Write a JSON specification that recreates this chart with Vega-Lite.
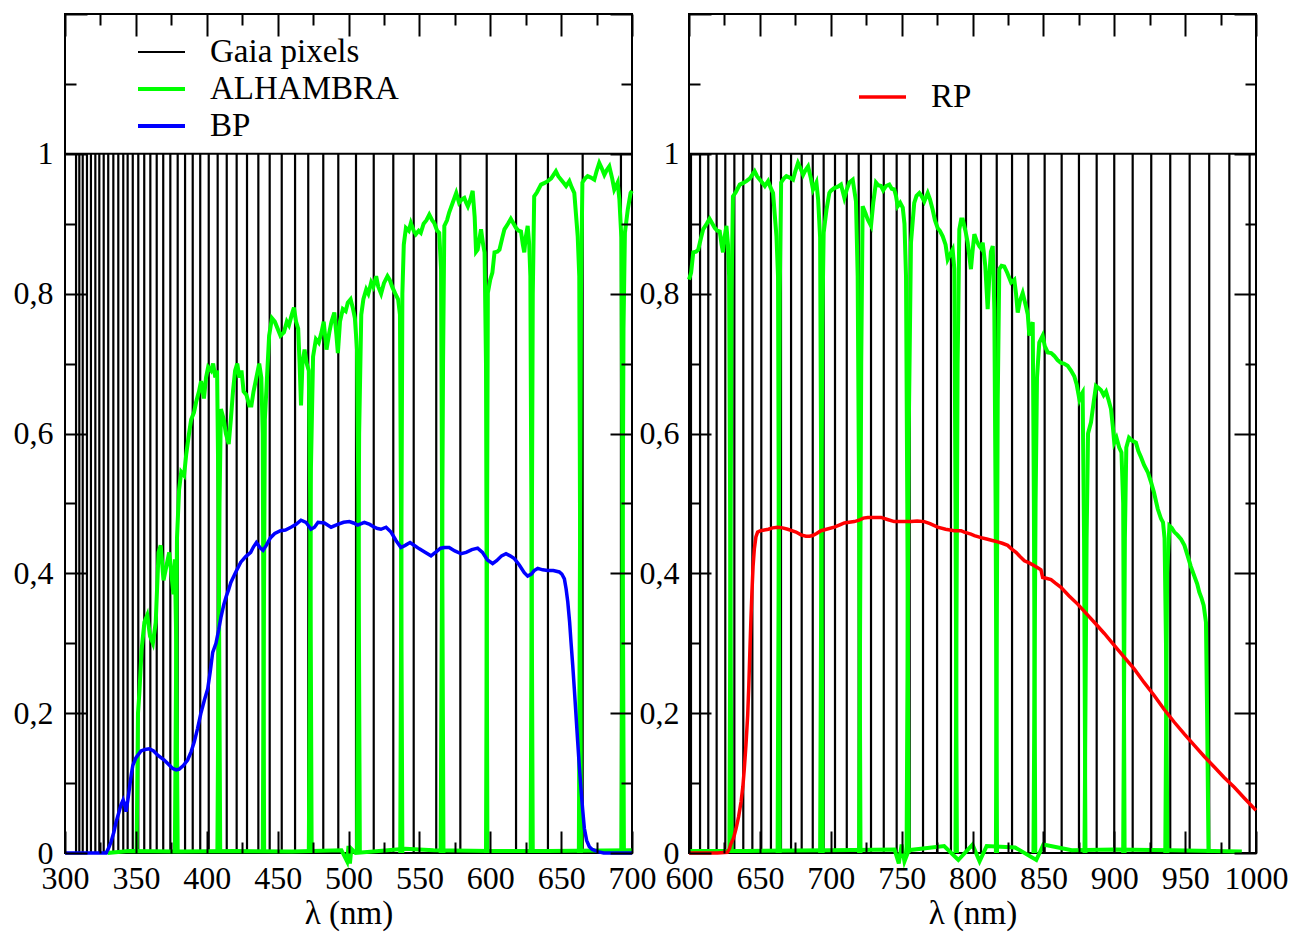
{
  "$schema": "https://vega.github.io/schema/vega-lite/v6.json",
  "padding": {"left": 12, "top": 12, "right": 5, "bottom": 5},
  "bounds": "flush",
  "spacing": 57,
  "background": "white",
  "config": {
    "font": "Liberation Serif",
    "view": {"stroke": "black", "strokeWidth": 2},
    "axis": {"grid": false, "domain": false, "labelColor": "black", "titleColor": "black", "tickColor": "black", "labelFont": "Liberation Serif", "titleFont": "Liberation Serif", "titleFontWeight": "normal"}
  },
  "resolve": {"scale": {"color": "independent"}, "legend": {"color": "independent"}},
  "datasets": {
    "gaia_bp": [
      {"nm": 307.8}, {"nm": 310.1}, {"nm": 312.5}, {"nm": 315.5}, {"nm": 318.3}, {"nm": 321.4}, {"nm": 324.2}, {"nm": 327.3}, {"nm": 330.5}, {"nm": 334.1},
      {"nm": 337.6}, {"nm": 341.1}, {"nm": 344.2}, {"nm": 347.8}, {"nm": 351.7}, {"nm": 355.9}, {"nm": 360.2}, {"nm": 364.7}, {"nm": 369.3}, {"nm": 374.3},
      {"nm": 379.5}, {"nm": 384.7}, {"nm": 390.1}, {"nm": 395.4}, {"nm": 401.4}, {"nm": 407.7}, {"nm": 414.1}, {"nm": 421.1}, {"nm": 428.4}, {"nm": 436.4},
      {"nm": 444.4}, {"nm": 452.9}, {"nm": 462.3}, {"nm": 471.6}, {"nm": 482.2}, {"nm": 492.8}, {"nm": 505.3}, {"nm": 517.8}, {"nm": 531.6}, {"nm": 546.0},
      {"nm": 561.9}, {"nm": 578.9}, {"nm": 597.5}, {"nm": 618.2}, {"nm": 640.7}, {"nm": 665.2}, {"nm": 692.2}
    ],
    "gaia_rp": [
      {"nm": 601.4}, {"nm": 607.8}, {"nm": 613.6}, {"nm": 619.5}, {"nm": 625.6}, {"nm": 632.0}, {"nm": 638.3}, {"nm": 644.7}, {"nm": 651.0}, {"nm": 657.8},
      {"nm": 664.9}, {"nm": 672.0}, {"nm": 679.5}, {"nm": 687.3}, {"nm": 695.0}, {"nm": 703.0}, {"nm": 711.3}, {"nm": 719.7}, {"nm": 728.4}, {"nm": 737.4},
      {"nm": 746.5}, {"nm": 755.7}, {"nm": 765.1}, {"nm": 775.0}, {"nm": 784.8}, {"nm": 795.4}, {"nm": 806.0}, {"nm": 817.1}, {"nm": 827.9}, {"nm": 839.4},
      {"nm": 850.9}, {"nm": 862.9}, {"nm": 875.1}, {"nm": 887.6}, {"nm": 900.0}, {"nm": 913.0}, {"nm": 926.1}, {"nm": 939.5}, {"nm": 953.2}, {"nm": 967.0},
      {"nm": 981.2}, {"nm": 995.5}
    ],
    "alhambra": [
      {"f": 0, "nm": 330, "t": 0}, {"f": 0, "nm": 345, "t": 0.003}, {"f": 0, "nm": 380, "t": 0.002}, {"f": 0, "nm": 420, "t": 0.003}, {"f": 0, "nm": 460, "t": 0.002},
      {"f": 0, "nm": 495, "t": 0.004}, {"f": 0, "nm": 499, "t": -0.012}, {"f": 0, "nm": 500, "t": 0.01}, {"f": 0, "nm": 501, "t": -0.015}, {"f": 0, "nm": 502, "t": 0.006},
      {"f": 0, "nm": 505, "t": 0}, {"f": 0, "nm": 540, "t": 0.006}, {"f": 0, "nm": 560, "t": 0.004}, {"f": 0, "nm": 600, "t": 0.003}, {"f": 0, "nm": 640, "t": 0.003},
      {"f": 0, "nm": 700, "t": 0.004}, {"f": 0, "nm": 745, "t": 0.005}, {"f": 0, "nm": 748, "t": -0.015}, {"f": 0, "nm": 750, "t": 0.012}, {"f": 0, "nm": 752, "t": -0.012},
      {"f": 0, "nm": 755, "t": 0.004}, {"f": 0, "nm": 780, "t": 0.01}, {"f": 0, "nm": 790, "t": -0.01}, {"f": 0, "nm": 800, "t": 0.012}, {"f": 0, "nm": 805, "t": -0.012},
      {"f": 0, "nm": 810, "t": 0.01}, {"f": 0, "nm": 830, "t": 0.008}, {"f": 0, "nm": 845, "t": -0.01}, {"f": 0, "nm": 850, "t": 0.012}, {"f": 0, "nm": 870, "t": 0.004},
      {"f": 0, "nm": 900, "t": 0.005}, {"f": 0, "nm": 940, "t": 0.004}, {"f": 0, "nm": 990, "t": 0.002},

      {"f": 1, "nm": 350.5, "t": 0}, {"f": 1, "nm": 351.5, "t": 0.2}, {"f": 1, "nm": 352.5, "t": 0.23}, {"f": 1, "nm": 354, "t": 0.29}, {"f": 1, "nm": 356, "t": 0.33},
      {"f": 1, "nm": 358, "t": 0.34}, {"f": 1, "nm": 360, "t": 0.31}, {"f": 1, "nm": 362, "t": 0.3}, {"f": 1, "nm": 364, "t": 0.33}, {"f": 1, "nm": 366, "t": 0.43},
      {"f": 1, "nm": 367.5, "t": 0.44}, {"f": 1, "nm": 369.5, "t": 0.39}, {"f": 1, "nm": 371.5, "t": 0.41}, {"f": 1, "nm": 373.5, "t": 0.43}, {"f": 1, "nm": 375, "t": 0.4},
      {"f": 1, "nm": 376.5, "t": 0.37}, {"f": 1, "nm": 377.5, "t": 0.42}, {"f": 1, "nm": 378.5, "t": 0.3}, {"f": 1, "nm": 379.5, "t": 0},

      {"f": 2, "nm": 377.5, "t": 0}, {"f": 2, "nm": 379, "t": 0.45}, {"f": 2, "nm": 380.5, "t": 0.52}, {"f": 2, "nm": 382, "t": 0.545}, {"f": 2, "nm": 384, "t": 0.54},
      {"f": 2, "nm": 385.5, "t": 0.57}, {"f": 2, "nm": 387.5, "t": 0.6}, {"f": 2, "nm": 389, "t": 0.62}, {"f": 2, "nm": 391, "t": 0.63}, {"f": 2, "nm": 392.5, "t": 0.645},
      {"f": 2, "nm": 394.5, "t": 0.66}, {"f": 2, "nm": 396, "t": 0.675}, {"f": 2, "nm": 398, "t": 0.65}, {"f": 2, "nm": 399.5, "t": 0.68}, {"f": 2, "nm": 401, "t": 0.695},
      {"f": 2, "nm": 403, "t": 0.69}, {"f": 2, "nm": 404.5, "t": 0.7}, {"f": 2, "nm": 406, "t": 0.68}, {"f": 2, "nm": 407.3, "t": 0.69}, {"f": 2, "nm": 408.3, "t": 0.5},
      {"f": 2, "nm": 409.5, "t": 0},

      {"f": 3, "nm": 407.5, "t": 0}, {"f": 3, "nm": 409, "t": 0.5}, {"f": 3, "nm": 410, "t": 0.635}, {"f": 3, "nm": 412, "t": 0.62}, {"f": 3, "nm": 413.5, "t": 0.6},
      {"f": 3, "nm": 415.5, "t": 0.585}, {"f": 3, "nm": 417, "t": 0.62}, {"f": 3, "nm": 418.5, "t": 0.66}, {"f": 3, "nm": 420, "t": 0.69}, {"f": 3, "nm": 421.5, "t": 0.7},
      {"f": 3, "nm": 423, "t": 0.68}, {"f": 3, "nm": 424.5, "t": 0.69}, {"f": 3, "nm": 426, "t": 0.66}, {"f": 3, "nm": 428, "t": 0.655}, {"f": 3, "nm": 430, "t": 0.64},
      {"f": 3, "nm": 431.5, "t": 0.64}, {"f": 3, "nm": 433, "t": 0.66}, {"f": 3, "nm": 434.5, "t": 0.675}, {"f": 3, "nm": 436, "t": 0.69}, {"f": 3, "nm": 437, "t": 0.7},
      {"f": 3, "nm": 438.5, "t": 0.68}, {"f": 3, "nm": 439.5, "t": 0.6}, {"f": 3, "nm": 440.5, "t": 0},

      {"f": 4, "nm": 439.5, "t": 0}, {"f": 4, "nm": 441, "t": 0.62}, {"f": 4, "nm": 442, "t": 0.66}, {"f": 4, "nm": 444, "t": 0.74}, {"f": 4, "nm": 446, "t": 0.765},
      {"f": 4, "nm": 448, "t": 0.76}, {"f": 4, "nm": 450, "t": 0.75}, {"f": 4, "nm": 452, "t": 0.74}, {"f": 4, "nm": 454.5, "t": 0.745}, {"f": 4, "nm": 456.5, "t": 0.76},
      {"f": 4, "nm": 458, "t": 0.755}, {"f": 4, "nm": 460, "t": 0.77}, {"f": 4, "nm": 461.5, "t": 0.78}, {"f": 4, "nm": 463, "t": 0.76}, {"f": 4, "nm": 464.5, "t": 0.75},
      {"f": 4, "nm": 465.5, "t": 0.7}, {"f": 4, "nm": 466.5, "t": 0.64}, {"f": 4, "nm": 467.5, "t": 0.7}, {"f": 4, "nm": 469, "t": 0.72}, {"f": 4, "nm": 470.5, "t": 0.7},
      {"f": 4, "nm": 472, "t": 0.69}, {"f": 4, "nm": 473, "t": 0.5}, {"f": 4, "nm": 474, "t": 0},

      {"f": 5, "nm": 472, "t": 0}, {"f": 5, "nm": 473.5, "t": 0.55}, {"f": 5, "nm": 475, "t": 0.71}, {"f": 5, "nm": 477, "t": 0.735}, {"f": 5, "nm": 479, "t": 0.73},
      {"f": 5, "nm": 481, "t": 0.745}, {"f": 5, "nm": 482.5, "t": 0.76}, {"f": 5, "nm": 484.5, "t": 0.72}, {"f": 5, "nm": 486.5, "t": 0.745}, {"f": 5, "nm": 488, "t": 0.76},
      {"f": 5, "nm": 490, "t": 0.773}, {"f": 5, "nm": 491.5, "t": 0.74}, {"f": 5, "nm": 492.5, "t": 0.715}, {"f": 5, "nm": 494, "t": 0.76}, {"f": 5, "nm": 496, "t": 0.778},
      {"f": 5, "nm": 498, "t": 0.775}, {"f": 5, "nm": 499.5, "t": 0.787}, {"f": 5, "nm": 501.5, "t": 0.792}, {"f": 5, "nm": 503, "t": 0.78}, {"f": 5, "nm": 504.5, "t": 0.765},
      {"f": 5, "nm": 506, "t": 0.72}, {"f": 5, "nm": 507, "t": 0.5}, {"f": 5, "nm": 508, "t": 0},

      {"f": 6, "nm": 506, "t": 0}, {"f": 6, "nm": 507.5, "t": 0.6}, {"f": 6, "nm": 509, "t": 0.77}, {"f": 6, "nm": 510.5, "t": 0.792}, {"f": 6, "nm": 512.5, "t": 0.806},
      {"f": 6, "nm": 514, "t": 0.8}, {"f": 6, "nm": 516, "t": 0.816}, {"f": 6, "nm": 517.5, "t": 0.81}, {"f": 6, "nm": 519.5, "t": 0.825}, {"f": 6, "nm": 521, "t": 0.81},
      {"f": 6, "nm": 523, "t": 0.8}, {"f": 6, "nm": 525, "t": 0.815}, {"f": 6, "nm": 527.5, "t": 0.825}, {"f": 6, "nm": 529, "t": 0.82}, {"f": 6, "nm": 531, "t": 0.809},
      {"f": 6, "nm": 533, "t": 0.8}, {"f": 6, "nm": 535, "t": 0.792}, {"f": 6, "nm": 536.3, "t": 0.77}, {"f": 6, "nm": 537, "t": 0.5}, {"f": 6, "nm": 538, "t": 0},

      {"f": 7, "nm": 536.5, "t": 0}, {"f": 7, "nm": 538, "t": 0.8}, {"f": 7, "nm": 539, "t": 0.87}, {"f": 7, "nm": 540.5, "t": 0.894}, {"f": 7, "nm": 542.5, "t": 0.89},
      {"f": 7, "nm": 544, "t": 0.901}, {"f": 7, "nm": 546, "t": 0.89}, {"f": 7, "nm": 547.5, "t": 0.885}, {"f": 7, "nm": 549.5, "t": 0.89}, {"f": 7, "nm": 551, "t": 0.887},
      {"f": 7, "nm": 553, "t": 0.9}, {"f": 7, "nm": 555, "t": 0.905}, {"f": 7, "nm": 557, "t": 0.913}, {"f": 7, "nm": 559, "t": 0.905}, {"f": 7, "nm": 560.5, "t": 0.901},
      {"f": 7, "nm": 562.5, "t": 0.89}, {"f": 7, "nm": 564, "t": 0.887}, {"f": 7, "nm": 565.3, "t": 0.835}, {"f": 7, "nm": 566, "t": 0.5}, {"f": 7, "nm": 567, "t": 0},

      {"f": 8, "nm": 565, "t": 0}, {"f": 8, "nm": 566.7, "t": 0.7}, {"f": 8, "nm": 567.6, "t": 0.897}, {"f": 8, "nm": 569.5, "t": 0.905}, {"f": 8, "nm": 571, "t": 0.916},
      {"f": 8, "nm": 573.5, "t": 0.93}, {"f": 8, "nm": 576, "t": 0.944}, {"f": 8, "nm": 578, "t": 0.93}, {"f": 8, "nm": 580, "t": 0.935}, {"f": 8, "nm": 581.7, "t": 0.937},
      {"f": 8, "nm": 583, "t": 0.93}, {"f": 8, "nm": 584.2, "t": 0.925}, {"f": 8, "nm": 586, "t": 0.935}, {"f": 8, "nm": 587.6, "t": 0.947}, {"f": 8, "nm": 589, "t": 0.91},
      {"f": 8, "nm": 590, "t": 0.86}, {"f": 8, "nm": 591.1, "t": 0.863}, {"f": 8, "nm": 592.5, "t": 0.88}, {"f": 8, "nm": 593.5, "t": 0.892}, {"f": 8, "nm": 595, "t": 0.87},
      {"f": 8, "nm": 596, "t": 0.859}, {"f": 8, "nm": 597, "t": 0.7}, {"f": 8, "nm": 598, "t": 0},

      {"f": 9, "nm": 597, "t": 0}, {"f": 9, "nm": 598.3, "t": 0.801}, {"f": 9, "nm": 600, "t": 0.82}, {"f": 9, "nm": 601.5, "t": 0.83}, {"f": 9, "nm": 603, "t": 0.859},
      {"f": 9, "nm": 605, "t": 0.86}, {"f": 9, "nm": 606.5, "t": 0.863}, {"f": 9, "nm": 608.5, "t": 0.88}, {"f": 9, "nm": 610, "t": 0.892}, {"f": 9, "nm": 612.5, "t": 0.9},
      {"f": 9, "nm": 614.5, "t": 0.907}, {"f": 9, "nm": 616.5, "t": 0.9}, {"f": 9, "nm": 618.2, "t": 0.894}, {"f": 9, "nm": 620, "t": 0.89}, {"f": 9, "nm": 621.7, "t": 0.889},
      {"f": 9, "nm": 623, "t": 0.87}, {"f": 9, "nm": 624, "t": 0.859}, {"f": 9, "nm": 625, "t": 0.88}, {"f": 9, "nm": 626.4, "t": 0.897}, {"f": 9, "nm": 627.5, "t": 0.87},
      {"f": 9, "nm": 628.3, "t": 0.825}, {"f": 9, "nm": 629, "t": 0.5}, {"f": 9, "nm": 630, "t": 0},

      {"f": 10, "nm": 628.5, "t": 0}, {"f": 10, "nm": 630, "t": 0.8}, {"f": 10, "nm": 631, "t": 0.939}, {"f": 10, "nm": 633, "t": 0.945}, {"f": 10, "nm": 635.8, "t": 0.956},
      {"f": 10, "nm": 638, "t": 0.958}, {"f": 10, "nm": 640.5, "t": 0.961}, {"f": 10, "nm": 643, "t": 0.965}, {"f": 10, "nm": 646.3, "t": 0.975}, {"f": 10, "nm": 648, "t": 0.968},
      {"f": 10, "nm": 650, "t": 0.963}, {"f": 10, "nm": 652, "t": 0.958}, {"f": 10, "nm": 653.5, "t": 0.954}, {"f": 10, "nm": 655.8, "t": 0.961}, {"f": 10, "nm": 657.5, "t": 0.952},
      {"f": 10, "nm": 659.3, "t": 0.944}, {"f": 10, "nm": 661, "t": 0.9}, {"f": 10, "nm": 661.7, "t": 0.882}, {"f": 10, "nm": 662.8, "t": 0.825}, {"f": 10, "nm": 663.3, "t": 0.5},
      {"f": 10, "nm": 664, "t": 0},

      {"f": 11, "nm": 662.5, "t": 0}, {"f": 11, "nm": 664, "t": 0.8}, {"f": 11, "nm": 665, "t": 0.959}, {"f": 11, "nm": 667, "t": 0.965}, {"f": 11, "nm": 668.7, "t": 0.968},
      {"f": 11, "nm": 671, "t": 0.966}, {"f": 11, "nm": 673.4, "t": 0.963}, {"f": 11, "nm": 675, "t": 0.975}, {"f": 11, "nm": 676.9, "t": 0.987}, {"f": 11, "nm": 678.5, "t": 0.98},
      {"f": 11, "nm": 680.5, "t": 0.97}, {"f": 11, "nm": 682, "t": 0.976}, {"f": 11, "nm": 684, "t": 0.982}, {"f": 11, "nm": 686, "t": 0.965}, {"f": 11, "nm": 687.5, "t": 0.949},
      {"f": 11, "nm": 689, "t": 0.955}, {"f": 11, "nm": 689.9, "t": 0.959}, {"f": 11, "nm": 691.1, "t": 0.935}, {"f": 11, "nm": 692.5, "t": 0.88}, {"f": 11, "nm": 693.3, "t": 0.5},
      {"f": 11, "nm": 694.3, "t": 0},

      {"f": 12, "nm": 692.5, "t": 0}, {"f": 12, "nm": 694, "t": 0.75}, {"f": 12, "nm": 695, "t": 0.887}, {"f": 12, "nm": 697, "t": 0.92}, {"f": 12, "nm": 699, "t": 0.944},
      {"f": 12, "nm": 700, "t": 0.947}, {"f": 12, "nm": 702.5, "t": 0.951}, {"f": 12, "nm": 705, "t": 0.953}, {"f": 12, "nm": 707.2, "t": 0.956}, {"f": 12, "nm": 709.6, "t": 0.937},
      {"f": 12, "nm": 711.5, "t": 0.95}, {"f": 12, "nm": 713.1, "t": 0.959}, {"f": 12, "nm": 715.5, "t": 0.963}, {"f": 12, "nm": 717.8, "t": 0.932}, {"f": 12, "nm": 719, "t": 0.825},
      {"f": 12, "nm": 720, "t": 0.5}, {"f": 12, "nm": 721, "t": 0},

      {"f": 13, "nm": 720, "t": 0}, {"f": 13, "nm": 721.5, "t": 0.7}, {"f": 13, "nm": 722.5, "t": 0.925}, {"f": 13, "nm": 724.5, "t": 0.915}, {"f": 13, "nm": 726.1, "t": 0.906},
      {"f": 13, "nm": 728.4, "t": 0.897}, {"f": 13, "nm": 730, "t": 0.93}, {"f": 13, "nm": 731.9, "t": 0.959}, {"f": 13, "nm": 733.5, "t": 0.955}, {"f": 13, "nm": 735.5, "t": 0.954},
      {"f": 13, "nm": 737, "t": 0.948}, {"f": 13, "nm": 739, "t": 0.954}, {"f": 13, "nm": 741.3, "t": 0.956}, {"f": 13, "nm": 743, "t": 0.95}, {"f": 13, "nm": 744.8, "t": 0.949},
      {"f": 13, "nm": 746, "t": 0.94}, {"f": 13, "nm": 747.2, "t": 0.925}, {"f": 13, "nm": 749, "t": 0.93}, {"f": 13, "nm": 750.8, "t": 0.923}, {"f": 13, "nm": 752, "t": 0.9},
      {"f": 13, "nm": 753.1, "t": 0.825}, {"f": 13, "nm": 754, "t": 0.5}, {"f": 13, "nm": 755, "t": 0},

      {"f": 14, "nm": 753.5, "t": 0}, {"f": 14, "nm": 755, "t": 0.6}, {"f": 14, "nm": 756.6, "t": 0.873}, {"f": 14, "nm": 758.9, "t": 0.93}, {"f": 14, "nm": 760.5, "t": 0.94},
      {"f": 14, "nm": 762.5, "t": 0.944}, {"f": 14, "nm": 764, "t": 0.94}, {"f": 14, "nm": 766, "t": 0.932}, {"f": 14, "nm": 768.4, "t": 0.944}, {"f": 14, "nm": 770, "t": 0.935},
      {"f": 14, "nm": 771.9, "t": 0.92}, {"f": 14, "nm": 773.5, "t": 0.905}, {"f": 14, "nm": 775.4, "t": 0.894}, {"f": 14, "nm": 777, "t": 0.89}, {"f": 14, "nm": 779, "t": 0.882},
      {"f": 14, "nm": 781, "t": 0.87}, {"f": 14, "nm": 782.5, "t": 0.849}, {"f": 14, "nm": 784, "t": 0.855}, {"f": 14, "nm": 786, "t": 0.863}, {"f": 14, "nm": 787.2, "t": 0.835},
      {"f": 14, "nm": 788, "t": 0.5}, {"f": 14, "nm": 789, "t": 0},

      {"f": 15, "nm": 788, "t": 0}, {"f": 15, "nm": 789.5, "t": 0.7}, {"f": 15, "nm": 790.7, "t": 0.892}, {"f": 15, "nm": 792, "t": 0.906}, {"f": 15, "nm": 793.1, "t": 0.906},
      {"f": 15, "nm": 795, "t": 0.89}, {"f": 15, "nm": 796.6, "t": 0.873}, {"f": 15, "nm": 798, "t": 0.85}, {"f": 15, "nm": 798.9, "t": 0.835}, {"f": 15, "nm": 800, "t": 0.86},
      {"f": 15, "nm": 801.3, "t": 0.885}, {"f": 15, "nm": 803, "t": 0.875}, {"f": 15, "nm": 804.8, "t": 0.868}, {"f": 15, "nm": 806, "t": 0.865}, {"f": 15, "nm": 807.2, "t": 0.873},
      {"f": 15, "nm": 809, "t": 0.84}, {"f": 15, "nm": 810.7, "t": 0.778}, {"f": 15, "nm": 812, "t": 0.83}, {"f": 15, "nm": 813, "t": 0.86}, {"f": 15, "nm": 814.3, "t": 0.868},
      {"f": 15, "nm": 815.4, "t": 0.778}, {"f": 15, "nm": 816.3, "t": 0.5}, {"f": 15, "nm": 817.3, "t": 0},

      {"f": 16, "nm": 816.5, "t": 0}, {"f": 16, "nm": 817.8, "t": 0.649}, {"f": 16, "nm": 818.9, "t": 0.835}, {"f": 16, "nm": 820.5, "t": 0.84}, {"f": 16, "nm": 822.4, "t": 0.839},
      {"f": 16, "nm": 824.5, "t": 0.83}, {"f": 16, "nm": 827.2, "t": 0.816}, {"f": 16, "nm": 829.5, "t": 0.82}, {"f": 16, "nm": 830.7, "t": 0.8}, {"f": 16, "nm": 831.9, "t": 0.773},
      {"f": 16, "nm": 833.5, "t": 0.79}, {"f": 16, "nm": 835.4, "t": 0.801}, {"f": 16, "nm": 837.7, "t": 0.782}, {"f": 16, "nm": 839, "t": 0.77}, {"f": 16, "nm": 840.1, "t": 0.74},
      {"f": 16, "nm": 841.5, "t": 0.755}, {"f": 16, "nm": 842.5, "t": 0.759}, {"f": 16, "nm": 843.3, "t": 0.5}, {"f": 16, "nm": 844.3, "t": 0},

      {"f": 17, "nm": 843, "t": 0}, {"f": 17, "nm": 844.5, "t": 0.5}, {"f": 17, "nm": 845.5, "t": 0.68}, {"f": 17, "nm": 847.1, "t": 0.73}, {"f": 17, "nm": 849.5, "t": 0.74},
      {"f": 17, "nm": 851, "t": 0.725}, {"f": 17, "nm": 853.1, "t": 0.716}, {"f": 17, "nm": 855.5, "t": 0.715}, {"f": 17, "nm": 857.7, "t": 0.711}, {"f": 17, "nm": 860, "t": 0.705},
      {"f": 17, "nm": 862.4, "t": 0.701}, {"f": 17, "nm": 864.5, "t": 0.7}, {"f": 17, "nm": 867.1, "t": 0.697}, {"f": 17, "nm": 869.5, "t": 0.69}, {"f": 17, "nm": 871.8, "t": 0.682},
      {"f": 17, "nm": 873.5, "t": 0.67}, {"f": 17, "nm": 875.4, "t": 0.649}, {"f": 17, "nm": 876.5, "t": 0.655}, {"f": 17, "nm": 877.7, "t": 0.659}, {"f": 17, "nm": 878.7, "t": 0.45},
      {"f": 17, "nm": 879.7, "t": 0},

      {"f": 18, "nm": 879, "t": 0}, {"f": 18, "nm": 880.5, "t": 0.45}, {"f": 18, "nm": 881.5, "t": 0.6}, {"f": 18, "nm": 883.6, "t": 0.616}, {"f": 18, "nm": 885.5, "t": 0.645},
      {"f": 18, "nm": 887.1, "t": 0.668}, {"f": 18, "nm": 889, "t": 0.665}, {"f": 18, "nm": 890.7, "t": 0.662}, {"f": 18, "nm": 892.5, "t": 0.655}, {"f": 18, "nm": 894.2, "t": 0.66},
      {"f": 18, "nm": 896, "t": 0.648}, {"f": 18, "nm": 897.7, "t": 0.635}, {"f": 18, "nm": 899, "t": 0.61}, {"f": 18, "nm": 900, "t": 0.587}, {"f": 18, "nm": 901.6, "t": 0.594},
      {"f": 18, "nm": 903.5, "t": 0.58}, {"f": 18, "nm": 905.1, "t": 0.573}, {"f": 18, "nm": 906.3, "t": 0.5}, {"f": 18, "nm": 907.3, "t": 0},

      {"f": 19, "nm": 906.3, "t": 0}, {"f": 19, "nm": 907.5, "t": 0.45}, {"f": 19, "nm": 908.5, "t": 0.58}, {"f": 19, "nm": 910.4, "t": 0.594}, {"f": 19, "nm": 912.5, "t": 0.59},
      {"f": 19, "nm": 915.3, "t": 0.587}, {"f": 19, "nm": 917, "t": 0.575}, {"f": 19, "nm": 918.9, "t": 0.566}, {"f": 19, "nm": 921, "t": 0.555}, {"f": 19, "nm": 923.8, "t": 0.544},
      {"f": 19, "nm": 926, "t": 0.53}, {"f": 19, "nm": 928, "t": 0.516}, {"f": 19, "nm": 930.7, "t": 0.492}, {"f": 19, "nm": 933, "t": 0.478}, {"f": 19, "nm": 934.4, "t": 0.473},
      {"f": 19, "nm": 935.5, "t": 0.45}, {"f": 19, "nm": 936.5, "t": 0.3}, {"f": 19, "nm": 937.5, "t": 0},

      {"f": 20, "nm": 936, "t": 0}, {"f": 20, "nm": 937.3, "t": 0.4}, {"f": 20, "nm": 938.9, "t": 0.468}, {"f": 20, "nm": 940.5, "t": 0.465}, {"f": 20, "nm": 942.4, "t": 0.459},
      {"f": 20, "nm": 944.5, "t": 0.455}, {"f": 20, "nm": 947.1, "t": 0.449}, {"f": 20, "nm": 949.5, "t": 0.44}, {"f": 20, "nm": 951.8, "t": 0.425}, {"f": 20, "nm": 954, "t": 0.41},
      {"f": 20, "nm": 956.5, "t": 0.396}, {"f": 20, "nm": 958.5, "t": 0.385}, {"f": 20, "nm": 960, "t": 0.373}, {"f": 20, "nm": 961.5, "t": 0.365}, {"f": 20, "nm": 963.1, "t": 0.354},
      {"f": 20, "nm": 964.7, "t": 0.33}, {"f": 20, "nm": 965.5, "t": 0.2}, {"f": 20, "nm": 966.5, "t": 0}
    ],
    "bp": [
      {"nm": 300, "t": 0}, {"nm": 320, "t": 0}, {"nm": 329, "t": 0}, {"nm": 331, "t": 0.008}, {"nm": 332.5, "t": 0.016}, {"nm": 334.5, "t": 0.03}, {"nm": 336, "t": 0.044},
      {"nm": 338, "t": 0.058}, {"nm": 339.5, "t": 0.069}, {"nm": 341, "t": 0.076}, {"nm": 342, "t": 0.07}, {"nm": 343, "t": 0.059}, {"nm": 344.3, "t": 0.075}, {"nm": 345.4, "t": 0.092},
      {"nm": 346.6, "t": 0.11}, {"nm": 347.8, "t": 0.125}, {"nm": 350, "t": 0.136}, {"nm": 353.6, "t": 0.146}, {"nm": 356.5, "t": 0.148}, {"nm": 359.5, "t": 0.149}, {"nm": 362.5, "t": 0.146},
      {"nm": 365.4, "t": 0.14}, {"nm": 370, "t": 0.133}, {"nm": 373, "t": 0.127}, {"nm": 376, "t": 0.121}, {"nm": 378.5, "t": 0.119}, {"nm": 380.6, "t": 0.12}, {"nm": 383.5, "t": 0.125},
      {"nm": 386.5, "t": 0.133}, {"nm": 389, "t": 0.145}, {"nm": 391.2, "t": 0.159}, {"nm": 393.5, "t": 0.178}, {"nm": 396, "t": 0.201}, {"nm": 398.5, "t": 0.22}, {"nm": 400.7, "t": 0.235},
      {"nm": 402.5, "t": 0.26}, {"nm": 404.2, "t": 0.287}, {"nm": 406.5, "t": 0.3}, {"nm": 408.5, "t": 0.32}, {"nm": 410, "t": 0.337}, {"nm": 412, "t": 0.355}, {"nm": 413.6, "t": 0.366},
      {"nm": 415.5, "t": 0.377}, {"nm": 417, "t": 0.387}, {"nm": 420.5, "t": 0.402}, {"nm": 424, "t": 0.416}, {"nm": 427.5, "t": 0.424}, {"nm": 431, "t": 0.43}, {"nm": 433, "t": 0.438},
      {"nm": 435, "t": 0.444}, {"nm": 437.5, "t": 0.437}, {"nm": 439.7, "t": 0.433}, {"nm": 442, "t": 0.44}, {"nm": 445, "t": 0.451}, {"nm": 448, "t": 0.457}, {"nm": 452, "t": 0.461},
      {"nm": 455.5, "t": 0.462}, {"nm": 459.4, "t": 0.466}, {"nm": 463, "t": 0.47}, {"nm": 466.5, "t": 0.476}, {"nm": 470, "t": 0.473}, {"nm": 473.5, "t": 0.463}, {"nm": 476, "t": 0.466},
      {"nm": 478.5, "t": 0.473}, {"nm": 483, "t": 0.472}, {"nm": 487.7, "t": 0.466}, {"nm": 492.4, "t": 0.47}, {"nm": 496.5, "t": 0.473}, {"nm": 500.6, "t": 0.474}, {"nm": 503.5, "t": 0.472},
      {"nm": 506.5, "t": 0.469}, {"nm": 509, "t": 0.471}, {"nm": 511.2, "t": 0.473}, {"nm": 515, "t": 0.47}, {"nm": 518.2, "t": 0.466}, {"nm": 520.5, "t": 0.464}, {"nm": 522.9, "t": 0.463},
      {"nm": 526.5, "t": 0.466}, {"nm": 530, "t": 0.459}, {"nm": 533.5, "t": 0.447}, {"nm": 537, "t": 0.437}, {"nm": 540, "t": 0.44}, {"nm": 543.4, "t": 0.444}, {"nm": 547, "t": 0.439},
      {"nm": 550, "t": 0.435}, {"nm": 554, "t": 0.43}, {"nm": 558.2, "t": 0.425}, {"nm": 562, "t": 0.431}, {"nm": 565, "t": 0.436}, {"nm": 567.6, "t": 0.437}, {"nm": 571, "t": 0.437},
      {"nm": 575, "t": 0.432}, {"nm": 579.4, "t": 0.428}, {"nm": 583, "t": 0.43}, {"nm": 587, "t": 0.434}, {"nm": 591.1, "t": 0.436}, {"nm": 594.5, "t": 0.43}, {"nm": 598, "t": 0.419},
      {"nm": 601.7, "t": 0.414}, {"nm": 604.5, "t": 0.418}, {"nm": 608, "t": 0.425}, {"nm": 611.1, "t": 0.428}, {"nm": 614, "t": 0.425}, {"nm": 617, "t": 0.421}, {"nm": 620.5, "t": 0.412},
      {"nm": 624, "t": 0.401}, {"nm": 626.4, "t": 0.396}, {"nm": 629, "t": 0.399}, {"nm": 631, "t": 0.404}, {"nm": 633.5, "t": 0.407}, {"nm": 637, "t": 0.405}, {"nm": 640.5, "t": 0.404},
      {"nm": 644.5, "t": 0.404}, {"nm": 648.7, "t": 0.402}, {"nm": 650.5, "t": 0.399}, {"nm": 652.3, "t": 0.392}, {"nm": 653.5, "t": 0.378}, {"nm": 654.7, "t": 0.359}, {"nm": 656, "t": 0.33},
      {"nm": 657, "t": 0.301}, {"nm": 658.2, "t": 0.268}, {"nm": 659.3, "t": 0.235}, {"nm": 660.5, "t": 0.197}, {"nm": 661.7, "t": 0.159}, {"nm": 662.8, "t": 0.125}, {"nm": 664, "t": 0.092},
      {"nm": 665.2, "t": 0.062}, {"nm": 666.4, "t": 0.035}, {"nm": 668, "t": 0.018}, {"nm": 669.9, "t": 0.009}, {"nm": 672, "t": 0.005}, {"nm": 675.8, "t": 0.002}, {"nm": 680, "t": 0},
      {"nm": 700, "t": 0}
    ],
    "rp": [
      {"nm": 600, "t": 0}, {"nm": 620, "t": 0}, {"nm": 627, "t": 0.001}, {"nm": 628.5, "t": 0.006}, {"nm": 629.6, "t": 0.013}, {"nm": 631.5, "t": 0.022}, {"nm": 633.2, "t": 0.035},
      {"nm": 635, "t": 0.052}, {"nm": 636.7, "t": 0.073}, {"nm": 638, "t": 0.095}, {"nm": 639, "t": 0.12}, {"nm": 640.2, "t": 0.155}, {"nm": 641.4, "t": 0.197}, {"nm": 642.2, "t": 0.24},
      {"nm": 643, "t": 0.292}, {"nm": 643.7, "t": 0.335}, {"nm": 644.4, "t": 0.373}, {"nm": 645.2, "t": 0.41}, {"nm": 646.1, "t": 0.435}, {"nm": 647.2, "t": 0.452}, {"nm": 648.4, "t": 0.459},
      {"nm": 650.5, "t": 0.461}, {"nm": 653.1, "t": 0.462}, {"nm": 656, "t": 0.463}, {"nm": 659, "t": 0.465}, {"nm": 662.6, "t": 0.466}, {"nm": 666, "t": 0.465}, {"nm": 669.6, "t": 0.463},
      {"nm": 672.5, "t": 0.461}, {"nm": 675.5, "t": 0.459}, {"nm": 679, "t": 0.455}, {"nm": 682.5, "t": 0.453}, {"nm": 685, "t": 0.453}, {"nm": 687.3, "t": 0.454}, {"nm": 690, "t": 0.457},
      {"nm": 693.1, "t": 0.461}, {"nm": 697, "t": 0.463}, {"nm": 702.5, "t": 0.466}, {"nm": 706, "t": 0.469}, {"nm": 709.6, "t": 0.472}, {"nm": 713, "t": 0.473}, {"nm": 716.6, "t": 0.474},
      {"nm": 720, "t": 0.476}, {"nm": 723, "t": 0.479}, {"nm": 726.1, "t": 0.48}, {"nm": 731, "t": 0.48}, {"nm": 735.5, "t": 0.48}, {"nm": 740, "t": 0.477}, {"nm": 744.8, "t": 0.474},
      {"nm": 750, "t": 0.474}, {"nm": 756.6, "t": 0.474}, {"nm": 761, "t": 0.475}, {"nm": 766, "t": 0.474}, {"nm": 770, "t": 0.471}, {"nm": 775.4, "t": 0.466}, {"nm": 781, "t": 0.463},
      {"nm": 787.2, "t": 0.461}, {"nm": 791.9, "t": 0.461}, {"nm": 794.2, "t": 0.459}, {"nm": 798.9, "t": 0.456}, {"nm": 801.3, "t": 0.454}, {"nm": 806, "t": 0.451}, {"nm": 810, "t": 0.449},
      {"nm": 814, "t": 0.447}, {"nm": 817.8, "t": 0.445}, {"nm": 821, "t": 0.443}, {"nm": 824.8, "t": 0.44}, {"nm": 827.5, "t": 0.435}, {"nm": 830.7, "t": 0.43}, {"nm": 833.5, "t": 0.424},
      {"nm": 836.6, "t": 0.418}, {"nm": 840, "t": 0.415}, {"nm": 843.6, "t": 0.411}, {"nm": 846, "t": 0.408}, {"nm": 848.3, "t": 0.405}, {"nm": 849.5, "t": 0.394}, {"nm": 852, "t": 0.393},
      {"nm": 855.4, "t": 0.391}, {"nm": 858.5, "t": 0.386}, {"nm": 862.4, "t": 0.38}, {"nm": 868, "t": 0.368}, {"nm": 874.2, "t": 0.356}, {"nm": 880, "t": 0.343}, {"nm": 885.9, "t": 0.33},
      {"nm": 893, "t": 0.314}, {"nm": 900, "t": 0.297}, {"nm": 907, "t": 0.28}, {"nm": 914.2, "t": 0.263}, {"nm": 921, "t": 0.244}, {"nm": 928.3, "t": 0.225}, {"nm": 935, "t": 0.206},
      {"nm": 942.4, "t": 0.187}, {"nm": 949.5, "t": 0.17}, {"nm": 956.5, "t": 0.154}, {"nm": 963.5, "t": 0.138}, {"nm": 970.6, "t": 0.123}, {"nm": 977.5, "t": 0.108}, {"nm": 984.7, "t": 0.094},
      {"nm": 992, "t": 0.078}, {"nm": 1000, "t": 0.061}
    ]
  },
  "hconcat": [
    {
      "width": 567,
      "height": 839,
      "resolve": {"axis": {"x": "independent", "y": "independent"}},
      "layer": [
        {
          "data": {"name": "gaia_bp"},
          "mark": {"type": "rule", "strokeWidth": 2.2},
          "encoding": {
            "x": {"field": "nm", "type": "quantitative", "scale": {"domain": [300, 700], "nice": false, "zero": false},
                  "axis": {"orient": "bottom", "values": [300, 350, 400, 450, 500, 550, 600, 650, 700], "format": "d", "ticks": false, "labelFont": "Liberation Serif", "labelFontSize": 32, "labelPadding": 10, "labelFlush": false, "labelOverlap": false, "title": "λ (nm)", "titleFont": "Liberation Serif", "titleFontWeight": "normal", "titleFontSize": 33, "titlePadding": 3, "zindex": 1}},
            "y": {"datum": 0, "type": "quantitative", "scale": {"domain": [0, 1.2], "nice": false},
                  "axis": {"orient": "left", "values": [0, 0.2, 0.4, 0.6, 0.8, 1], "ticks": false, "labelExpr": "replace(format(datum.value, '~g'), '.', ',')", "labelFont": "Liberation Serif", "labelFontSize": 32, "labelPadding": 12, "title": null, "zindex": 1}},
            "y2": {"datum": 1},
            "color": {"datum": "Gaia pixels", "type": "nominal",
                      "scale": {"domain": ["Gaia pixels", "ALHAMBRA", "BP"], "range": ["#000000", "#00ff00", "#0000ff"]},
                      "legend": {"orient": "none", "legendX": 80, "legendY": 21.5, "title": null, "symbolType": "stroke", "symbolSize": 2209, "symbolStrokeWidth": 3.5, "labelFont": "Liberation Serif", "labelFontSize": 33, "labelColor": "black", "labelOffset": 32, "rowPadding": 3, "labelLimit": 400, "padding": 0,
                                 "encode": {"symbols": {"update": {"strokeWidth": {"signal": "datum.value === 'Gaia pixels' ? 2 : 4"}}}}}}
          }
        },
        {
          "data": {"name": "alhambra"},
          "transform": [{"filter": "datum.nm >= 300 && datum.nm <= 700"}],
          "mark": {"type": "line", "strokeWidth": 4},
          "encoding": {
            "x": {"field": "nm", "type": "quantitative", "scale": {"domain": [300, 700], "nice": false, "zero": false},
                  "axis": {"orient": "bottom", "values": [300, 325, 350, 375, 400, 425, 450, 475, 500, 525, 550, 575, 600, 625, 650, 675, 700], "labels": false, "title": null, "tickWidth": 2, "tickSize": {"condition": {"test": "datum.value % 50 === 0", "value": -22}, "value": -11}, "zindex": 2}},
            "y": {"field": "t", "type": "quantitative", "scale": {"domain": [0, 1.2], "nice": false},
                  "axis": {"orient": "left", "values": [0, 0.1, 0.2, 0.3, 0.4, 0.5, 0.6, 0.7, 0.8, 0.9, 1, 1.1, 1.2], "labels": false, "title": null, "tickWidth": 2, "tickSize": {"condition": {"test": "round(datum.value * 10) % 2 === 0", "value": -22}, "value": -11}, "zindex": 2}},
            "detail": {"field": "f", "type": "nominal"},
            "color": {"datum": "ALHAMBRA", "type": "nominal"}
          }
        },
        {
          "data": {"name": "bp"},
          "mark": {"type": "line", "strokeWidth": 3.5},
          "encoding": {
            "x": {"field": "nm", "type": "quantitative", "scale": {"domain": [300, 700], "nice": false, "zero": false},
                  "axis": {"orient": "top", "values": [300, 325, 350, 375, 400, 425, 450, 475, 500, 525, 550, 575, 600, 625, 650, 675, 700], "labels": false, "title": null, "tickWidth": 2, "tickSize": {"condition": {"test": "datum.value % 50 === 0", "value": -22}, "value": -11}, "zindex": 2}},
            "y": {"field": "t", "type": "quantitative", "scale": {"domain": [0, 1.2], "nice": false},
                  "axis": {"orient": "right", "values": [0, 0.1, 0.2, 0.3, 0.4, 0.5, 0.6, 0.7, 0.8, 0.9, 1, 1.1, 1.2], "labels": false, "title": null, "tickWidth": 2, "tickSize": {"condition": {"test": "round(datum.value * 10) % 2 === 0", "value": -22}, "value": -11}, "zindex": 2}},
            "color": {"datum": "BP", "type": "nominal"}
          }
        },
        {
          "data": {"values": [{}]},
          "mark": {"type": "rule", "color": "black", "strokeWidth": 2},
          "encoding": {"y": {"datum": 1, "type": "quantitative", "axis": null}}
        }
      ]
    },
    {
      "width": 567,
      "height": 839,
      "resolve": {"axis": {"x": "independent", "y": "independent"}},
      "layer": [
        {
          "data": {"name": "gaia_rp"},
          "mark": {"type": "rule", "strokeWidth": 2.2, "color": "black"},
          "encoding": {
            "x": {"field": "nm", "type": "quantitative", "scale": {"domain": [600, 1000], "nice": false, "zero": false},
                  "axis": {"orient": "bottom", "values": [600, 650, 700, 750, 800, 850, 900, 950, 1000], "format": "d", "ticks": false, "labelFont": "Liberation Serif", "labelFontSize": 32, "labelPadding": 10, "labelFlush": false, "labelOverlap": false, "title": "λ (nm)", "titleFont": "Liberation Serif", "titleFontWeight": "normal", "titleFontSize": 33, "titlePadding": 3, "zindex": 1}},
            "y": {"datum": 0, "type": "quantitative", "scale": {"domain": [0, 1.2], "nice": false},
                  "axis": {"orient": "left", "values": [0, 0.2, 0.4, 0.6, 0.8, 1], "ticks": false, "labelExpr": "replace(format(datum.value, '~g'), '.', ',')", "labelFont": "Liberation Serif", "labelFontSize": 32, "labelPadding": 10, "title": null, "zindex": 1}},
            "y2": {"datum": 1}
          }
        },
        {
          "data": {"name": "alhambra"},
          "transform": [{"filter": "datum.nm >= 600 && datum.nm <= 1000"}],
          "mark": {"type": "line", "strokeWidth": 4, "color": "#00ff00"},
          "encoding": {
            "x": {"field": "nm", "type": "quantitative", "scale": {"domain": [600, 1000], "nice": false, "zero": false},
                  "axis": {"orient": "bottom", "values": [600, 625, 650, 675, 700, 725, 750, 775, 800, 825, 850, 875, 900, 925, 950, 975, 1000], "labels": false, "title": null, "tickWidth": 2, "tickSize": {"condition": {"test": "datum.value % 50 === 0", "value": -22}, "value": -11}, "zindex": 2}},
            "y": {"field": "t", "type": "quantitative", "scale": {"domain": [0, 1.2], "nice": false},
                  "axis": {"orient": "left", "values": [0, 0.1, 0.2, 0.3, 0.4, 0.5, 0.6, 0.7, 0.8, 0.9, 1, 1.1, 1.2], "labels": false, "title": null, "tickWidth": 2, "tickSize": {"condition": {"test": "round(datum.value * 10) % 2 === 0", "value": -22}, "value": -11}, "zindex": 2}},
            "detail": {"field": "f", "type": "nominal"}
          }
        },
        {
          "data": {"name": "rp"},
          "mark": {"type": "line", "strokeWidth": 3.5},
          "encoding": {
            "x": {"field": "nm", "type": "quantitative", "scale": {"domain": [600, 1000], "nice": false, "zero": false},
                  "axis": {"orient": "top", "values": [600, 625, 650, 675, 700, 725, 750, 775, 800, 825, 850, 875, 900, 925, 950, 975, 1000], "labels": false, "title": null, "tickWidth": 2, "tickSize": {"condition": {"test": "datum.value % 50 === 0", "value": -22}, "value": -11}, "zindex": 2}},
            "y": {"field": "t", "type": "quantitative", "scale": {"domain": [0, 1.2], "nice": false},
                  "axis": {"orient": "right", "values": [0, 0.1, 0.2, 0.3, 0.4, 0.5, 0.6, 0.7, 0.8, 0.9, 1, 1.1, 1.2], "labels": false, "title": null, "tickWidth": 2, "tickSize": {"condition": {"test": "round(datum.value * 10) % 2 === 0", "value": -22}, "value": -11}, "zindex": 2}},
            "color": {"datum": "RP", "type": "nominal",
                      "scale": {"domain": ["RP"], "range": ["#ff0000"]},
                      "legend": {"orient": "none", "legendX": 168, "legendY": 57.5, "title": null, "symbolType": "stroke", "symbolSize": 2209, "symbolStrokeWidth": 3.5, "labelFont": "Liberation Serif", "labelFontSize": 33, "labelColor": "black", "labelOffset": 23, "rowPadding": 3, "labelLimit": 400, "padding": 0}}
          }
        },
        {
          "data": {"values": [{}]},
          "mark": {"type": "rule", "color": "black", "strokeWidth": 2},
          "encoding": {"y": {"datum": 1, "type": "quantitative", "axis": null}}
        }
      ]
    }
  ]
}
